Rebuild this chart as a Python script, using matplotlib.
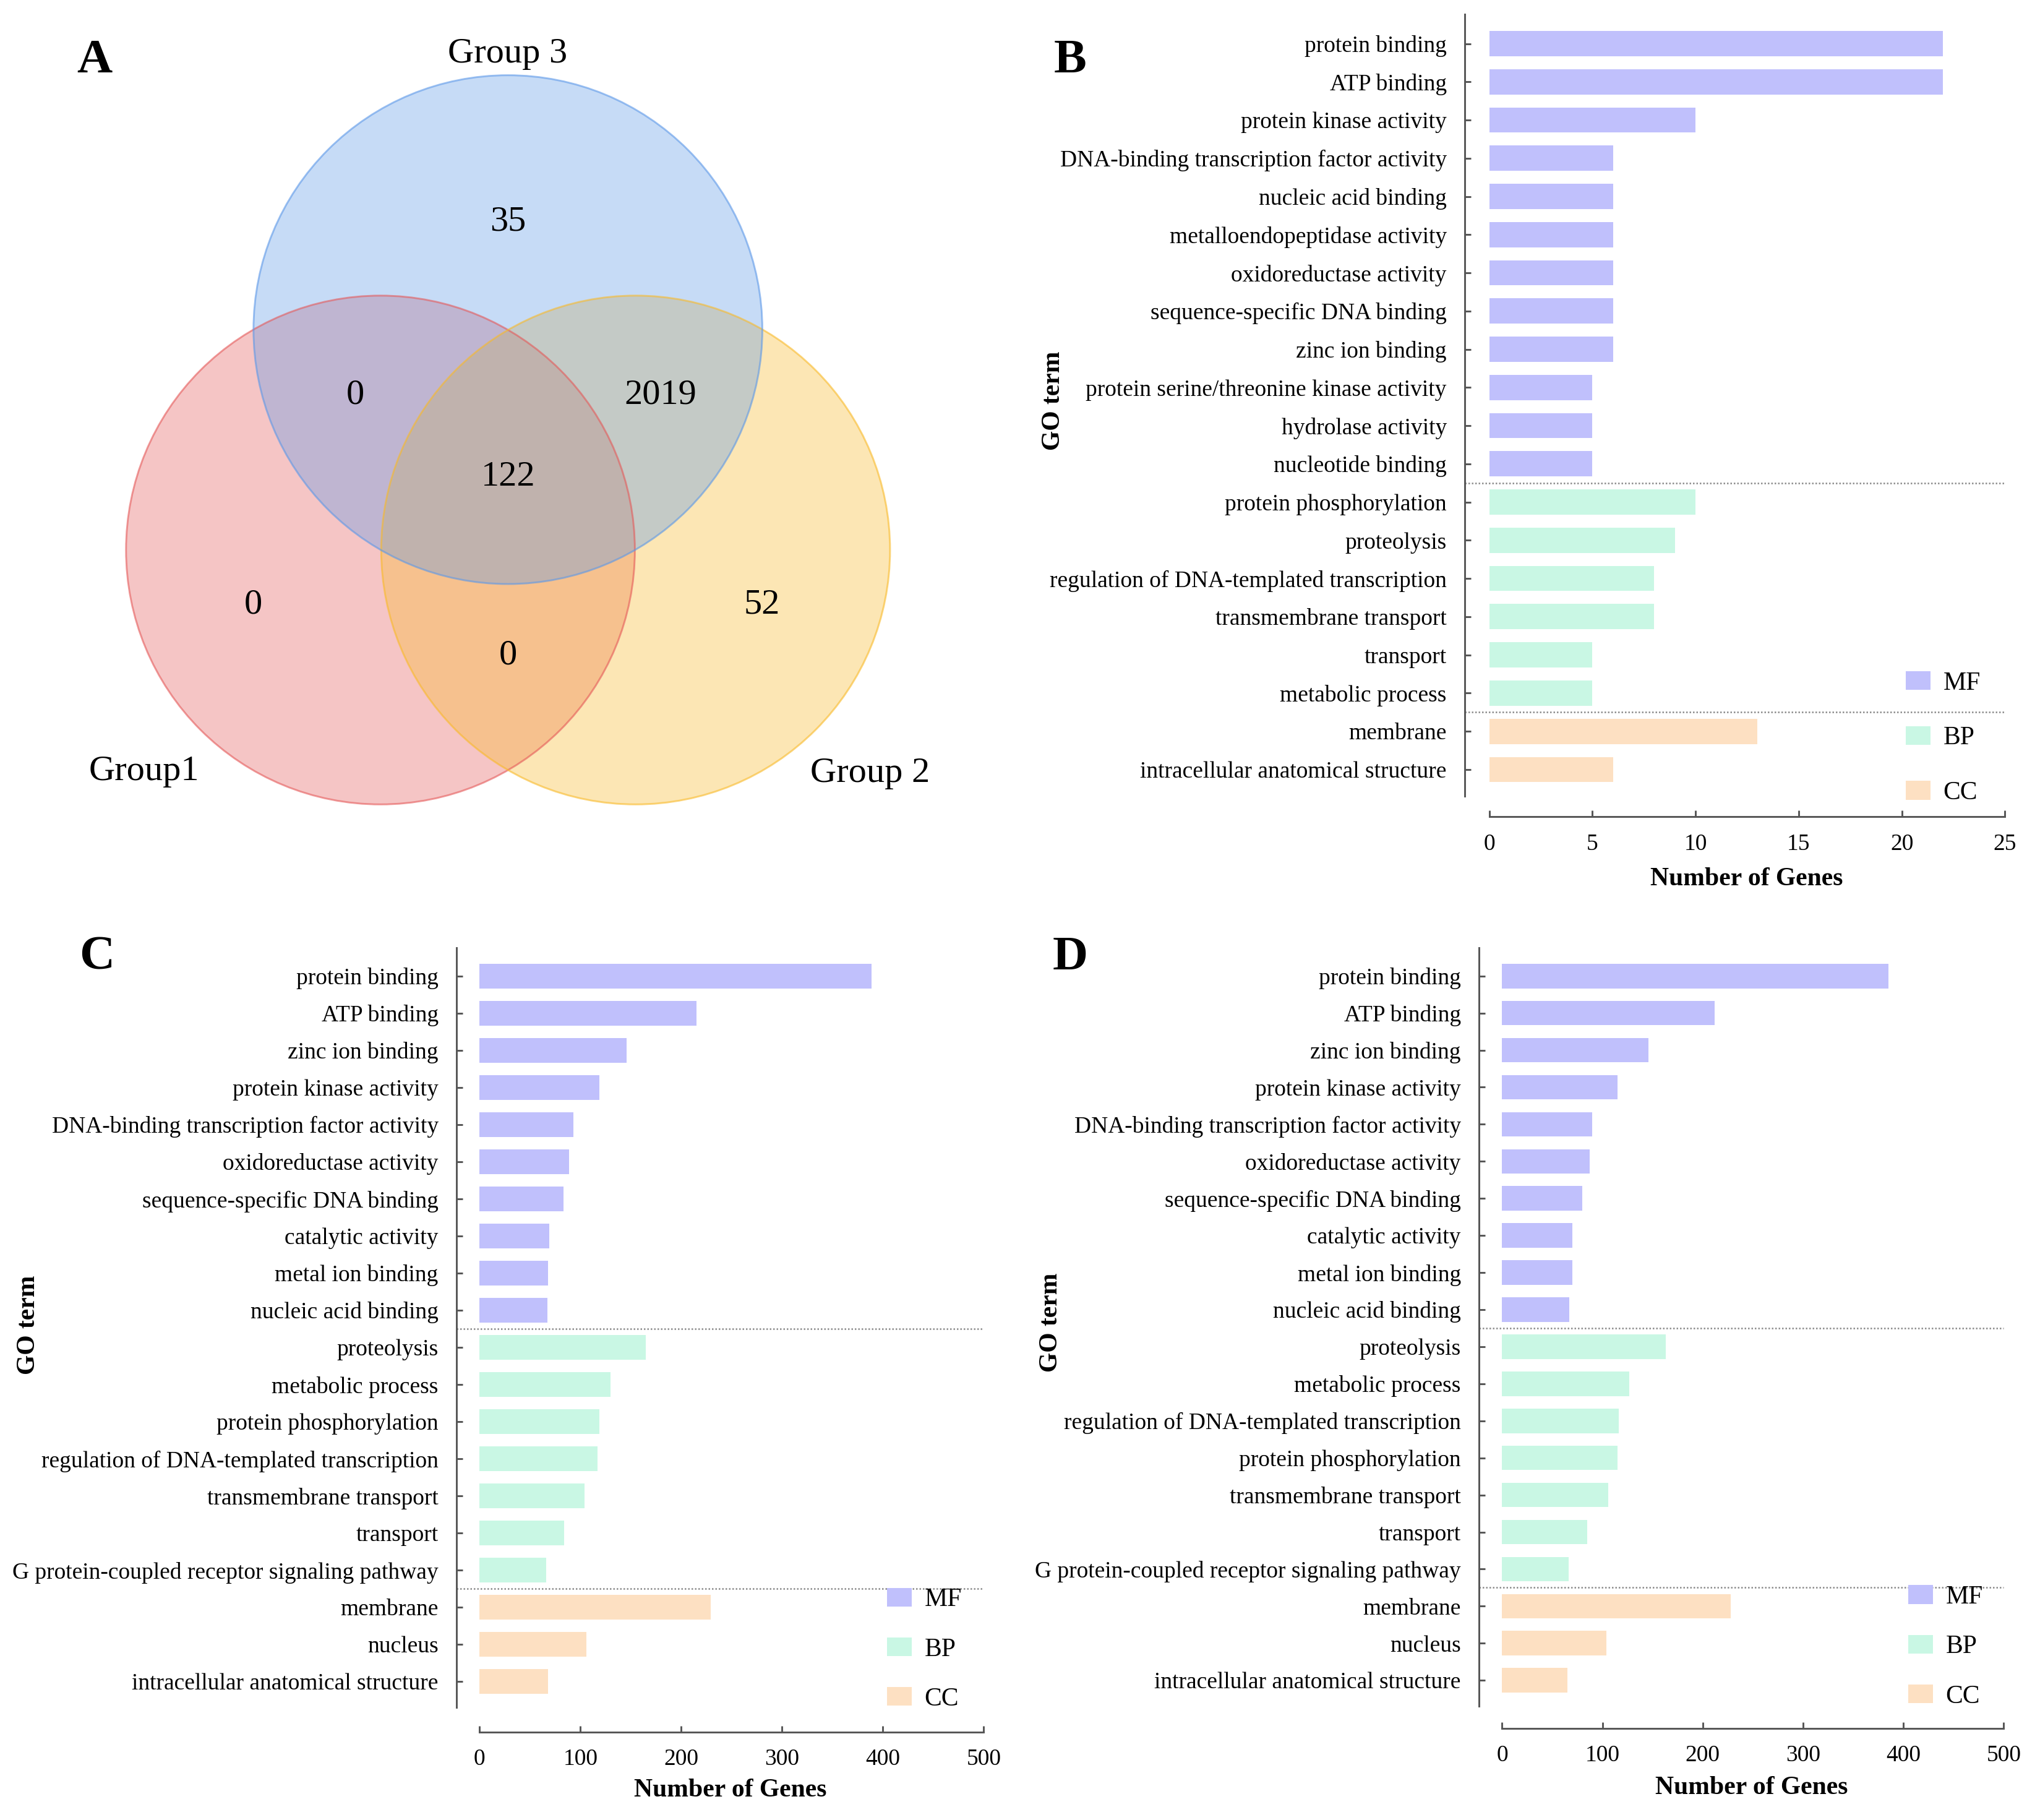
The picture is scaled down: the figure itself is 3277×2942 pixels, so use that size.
#- GO annotation summary: Venn of three groups + GO term bar charts
import matplotlib.pyplot as plt
from matplotlib.patches import Circle, Patch

plt.rcParams['font.family'] = ['Liberation Serif', 'DejaVu Serif']

#- Data
venn_names = ['Group1', 'Group 2', 'Group 3']
venn_regions = ['1', '2', '3', '12', '13', '23', '123']
venn_counts = [0, 52, 35, 0, 0, 2019, 122]

cat_names = ['MF', 'BP', 'CC']
cat_colors = ['#c0c0fc', '#c9f7e4', '#fde0c2']

b_terms = ['protein binding', 'ATP binding', 'protein kinase activity',
           'DNA-binding transcription factor activity', 'nucleic acid binding',
           'metalloendopeptidase activity', 'oxidoreductase activity',
           'sequence-specific DNA binding', 'zinc ion binding',
           'protein serine/threonine kinase activity', 'hydrolase activity',
           'nucleotide binding',
           'protein phosphorylation', 'proteolysis',
           'regulation of DNA-templated transcription', 'transmembrane transport',
           'transport', 'metabolic process',
           'membrane', 'intracellular anatomical structure']
b_counts = [22, 22, 10, 6, 6, 6, 6, 6, 6, 5, 5, 5,
            10, 9, 8, 8, 5, 5,
            13, 6]
b_cats = ['MF'] * 12 + ['BP'] * 6 + ['CC'] * 2

c_terms = ['protein binding', 'ATP binding', 'zinc ion binding',
           'protein kinase activity', 'DNA-binding transcription factor activity',
           'oxidoreductase activity', 'sequence-specific DNA binding',
           'catalytic activity', 'metal ion binding', 'nucleic acid binding',
           'proteolysis', 'metabolic process', 'protein phosphorylation',
           'regulation of DNA-templated transcription', 'transmembrane transport',
           'transport', 'G protein-coupled receptor signaling pathway',
           'membrane', 'nucleus', 'intracellular anatomical structure']
c_counts = [389, 215, 146, 119, 93, 89, 83, 69, 68, 67,
            165, 130, 119, 117, 104, 84, 66,
            229, 106, 68]
c_cats = ['MF'] * 10 + ['BP'] * 7 + ['CC'] * 3

d_terms = ['protein binding', 'ATP binding', 'zinc ion binding',
           'protein kinase activity', 'DNA-binding transcription factor activity',
           'oxidoreductase activity', 'sequence-specific DNA binding',
           'catalytic activity', 'metal ion binding', 'nucleic acid binding',
           'proteolysis', 'metabolic process',
           'regulation of DNA-templated transcription', 'protein phosphorylation',
           'transmembrane transport', 'transport',
           'G protein-coupled receptor signaling pathway',
           'membrane', 'nucleus', 'intracellular anatomical structure']
d_counts = [385, 212, 146, 115, 90, 87, 80, 70, 70, 67,
            163, 127, 116, 115, 106, 85, 66,
            228, 104, 65]
d_cats = ['MF'] * 10 + ['BP'] * 7 + ['CC'] * 3

#- Figure, layout given on a 1568 x 1408 grid
W, H = 1568.0, 1408.0
DPI = 300
fig = plt.figure(figsize=(3277 / DPI, 2942 / DPI), dpi=DPI)
axc = '#555555'


def fx(x):
    return x / W


def fy(y):
    return 1 - y / H


def go_panel(rect, terms, counts, cats, xmax, xstep, yoff, xoff,
             leg_xy, leg_sp, ylab_xy, xlab_xy, letter, letter_xy):
    l, t, r, b = rect
    ax = fig.add_axes([fx(l), fy(b), (r - l) / W, (b - t) / H])
    n = len(terms)
    col = {k: c for k, c in zip(cat_names, cat_colors)}
    ax.barh(range(n), counts, height=0.66,
            color=[col[c] for c in cats], edgecolor='none')
    ax.set_ylim(n - 1 + 0.7, -0.77)
    ax.set_xlim(0, xmax)
    ax.set_xticks(range(0, xmax + 1, xstep))
    ax.set_yticks(range(n))
    ax.set_yticklabels(terms)
    for s in ['top', 'right']:
        ax.spines[s].set_visible(False)
    ax.spines['left'].set_position(('outward', yoff))
    ax.spines['bottom'].set_position(('outward', xoff))
    for s in ['left', 'bottom']:
        ax.spines[s].set_color(axc)
        ax.spines[s].set_linewidth(0.7)
    ax.tick_params(axis='y', direction='in', length=2.4, width=0.7,
                   color=axc, pad=7, labelsize=9)
    ax.tick_params(axis='x', direction='in', length=2.4, width=0.7,
                   color=axc, pad=6.5, labelsize=9)
    # dotted separators between MF / BP / CC
    width_px = (r - l) / W * fig.get_figwidth() * DPI
    xmin = -(yoff * DPI / 72.0) / width_px
    for i in range(1, n):
        if cats[i] != cats[i - 1]:
            ax.axhline(i - 0.5, xmin=xmin, xmax=1, clip_on=False,
                       color='#8a8a8a', lw=0.6, ls=(0, (1, 1.2)))
    handles = [Patch(facecolor=c, edgecolor='none') for c in cat_colors]
    fig.legend(handles, cat_names, loc='center left',
               bbox_to_anchor=(fx(leg_xy[0]), fy(leg_xy[1])),
               frameon=False, fontsize=10, handlelength=0.96,
               handleheight=0.74, handletextpad=0.5, labelspacing=leg_sp,
               borderpad=0, borderaxespad=0)
    fig.text(fx(ylab_xy[0]), fy(ylab_xy[1]), 'GO term', rotation=90,
             ha='center', va='center', fontsize=10, fontweight='bold')
    fig.text(fx(xlab_xy[0]), fy(xlab_xy[1]), 'Number of Genes',
             ha='center', va='center', fontsize=10, fontweight='bold')
    fig.text(fx(letter_xy[0]), fy(letter_xy[1]), letter,
             ha='center', va='center', fontsize=19, fontweight='bold')
    return ax


#- Panel A: Venn diagram
axv = fig.add_axes([0, fy(700), 784 / W, 700 / H])
axv.set_xlim(0, 784)
axv.set_ylim(700, 0)
axv.axis('off')

circ_xy = [(294.3, 425.5), (491.7, 425.5), (392.9, 255.0)]   # Group1, 2, 3
circ_r = 196.8
circ_col = ['#e55959', '#f9ba29', '#5c98e8']
for (cx, cy), c in zip(circ_xy, circ_col):
    axv.add_patch(Circle((cx, cy), circ_r, facecolor=c, edgecolor='none',
                         alpha=0.35))
for (cx, cy), c in zip(circ_xy, circ_col):
    axv.add_patch(Circle((cx, cy), circ_r, fill=False, edgecolor=c,
                         lw=0.7, alpha=0.6))

region_xy = {'1': (196, 468), '2': (589.5, 468), '3': (393, 171.5),
             '12': (393, 507), '13': (275, 305.6), '23': (511, 305.6),
             '123': (393, 369)}
for reg, cnt in zip(venn_regions, venn_counts):
    x, y = region_xy[reg]
    axv.text(x, y, str(cnt), ha='center', va='center', fontsize=14)

name_xy = [(111.5, 597), (673, 598), (392.4, 41.6)]
for nm, (x, y) in zip(venn_names, name_xy):
    axv.text(x, y, nm, ha='center', va='center', fontsize=14)
fig.text(fx(73), fy(47), 'A', ha='center', va='center', fontsize=19,
         fontweight='bold')

#- Panels B, C, D
go_panel((1152, 11, 1551, 616), b_terms, b_counts, b_cats, 25, 5, 9.5, 8.0,
         (1474, 571), 1.2, (815, 310), (1351, 680), 'B', (828, 47))
go_panel((371, 733, 761, 1321), c_terms, c_counts, c_cats, 500, 100, 9.0, 9.5,
         (686, 1276), 1.0, (22, 1025), (565, 1385), 'C', (75, 741))
go_panel((1162, 733, 1550, 1320), d_terms, d_counts, d_cats, 500, 100, 9.0, 8.5,
         (1476, 1274), 1.0, (813, 1023), (1355, 1383), 'D', (828, 741))

fig.savefig('out.png', dpi=DPI)
plt.close(fig)
